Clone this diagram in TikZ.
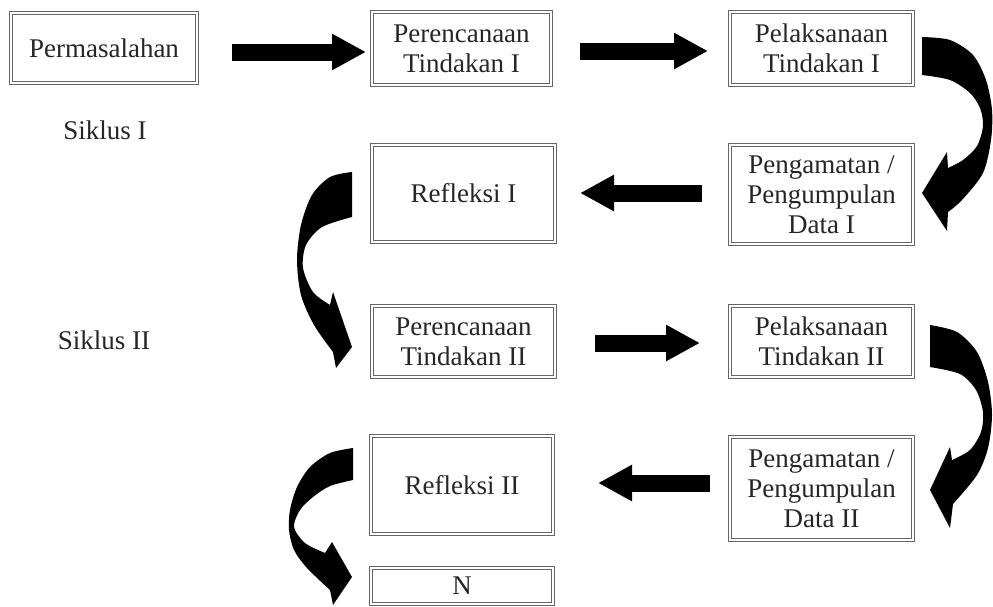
\documentclass[tikz,border=0pt]{standalone}
\usepackage{fontspec}
\setmainfont{Liberation Serif}
\usetikzlibrary{arrows.meta}
\begin{document}
\begin{tikzpicture}[x=1pt,y=-1pt,
  box/.style={draw=black!60, line width=1.3pt, double=white, double distance=1.4pt,
    inner sep=0pt, align=center, text=black!85, font=\fontsize{27}{30}\selectfont},
  fat/.style={line width=17pt, -{Triangle[width=34pt,length=34pt]}},
  curv/.style={fill=black},
  lbl/.style={text=black!85, font=\fontsize{27}{30}\selectfont}]
\useasboundingbox (0,0) rectangle (993,606);
% boxes
\node[box, minimum width=186pt, minimum height=70pt] (perm) at (104,48) {Permasalahan};
\node[box, minimum width=179pt, minimum height=73pt] (per1) at (461.5,48.5) {Perencanaan\\Tindakan I};
\node[box, minimum width=183pt, minimum height=73pt] (pel1) at (821.5,48.5) {Pelaksanaan\\Tindakan I};
\node[box, minimum width=183pt, minimum height=97pt] (ref1) at (463.5,193.5) {Refleksi I};
\node[box, minimum width=183pt, minimum height=99pt] (pen1) at (821.5,194.5) {Pengamatan /\\Pengumpulan\\Data I};
\node[box, minimum width=183pt, minimum height=71pt] (per2) at (463.5,341.5) {Perencanaan\\Tindakan II};
\node[box, minimum width=183pt, minimum height=71pt] (pel2) at (821.5,341.5) {Pelaksanaan\\Tindakan II};
\node[box, minimum width=182pt, minimum height=98pt] (ref2) at (462,485) {Refleksi II};
\node[box, minimum width=183pt, minimum height=103pt] (pen2) at (821.5,488.5) {Pengamatan /\\Pengumpulan\\Data II};
\node[box, minimum width=182pt, minimum height=36pt] (n) at (462,586) {N};
% labels
\node[lbl] (s1) at (105,130) {Siklus I};
\node[lbl] (s2) at (104,340) {Siklus II};
% straight arrow ends
\coordinate (a1s) at (232,52); \coordinate (a1e) at (366,52);
\coordinate (a2s) at (580,51); \coordinate (a2e) at (708,51);
\coordinate (a3s) at (702,193); \coordinate (a3e) at (580,193);
\coordinate (a4s) at (595,343); \coordinate (a4e) at (700,343);
\coordinate (a5s) at (710,483); \coordinate (a5e) at (598,483);
\draw[fat] (a1s) -- (a1e);
\draw[fat] (a2s) -- (a2e);
\draw[fat] (a3s) -- (a3e);
\draw[fat] (a4s) -- (a4e);
\draw[fat] (a5s) -- (a5e);
% curved arrows
\fill[curv] plot[smooth] coordinates {(922,37) (950,40) (973,55) (986,80) (992,110) (991,140) (983,173) (962,200) (948,212)}
  -- (947,231) -- (922,193) -- (947,152)
  -- plot[smooth] coordinates {(948,168) (963,160) (977,146) (983,126) (980,108) (970,93) (950,80) (922,75)} -- cycle;
\fill[curv] plot[smooth] coordinates {(352,172) (330,177) (312,195) (301,225) (297,260) (301,295) (314,325) (333,352)}
  -- (336,368) -- (352,347) -- (333,292)
  -- plot[smooth] coordinates {(330,305) (313,292) (303,268) (306,245) (322,227) (352,217)} -- cycle;
\fill[curv] plot[smooth] coordinates {(930,325) (957,332) (977,352) (988,382) (992,415) (988,448) (977,475) (953,504)}
  -- (950,528) -- (930,490) -- (950,447)
  -- plot[smooth] coordinates {(952,460) (970,450) (981,432) (983,412) (976,390) (960,374) (930,367)} -- cycle;
\fill[curv] plot[smooth] coordinates {(353,448) (330,453) (310,467) (297,487) (290,510) (289,530) (294,550) (307,568) (330,590)}
  -- (333,605) -- (352,577) -- (332,542)
  -- plot[smooth] coordinates {(325,553) (305,543) (294,527) (300,510) (313,497) (330,486) (353,480)} -- cycle;
\end{tikzpicture}
\end{document}
